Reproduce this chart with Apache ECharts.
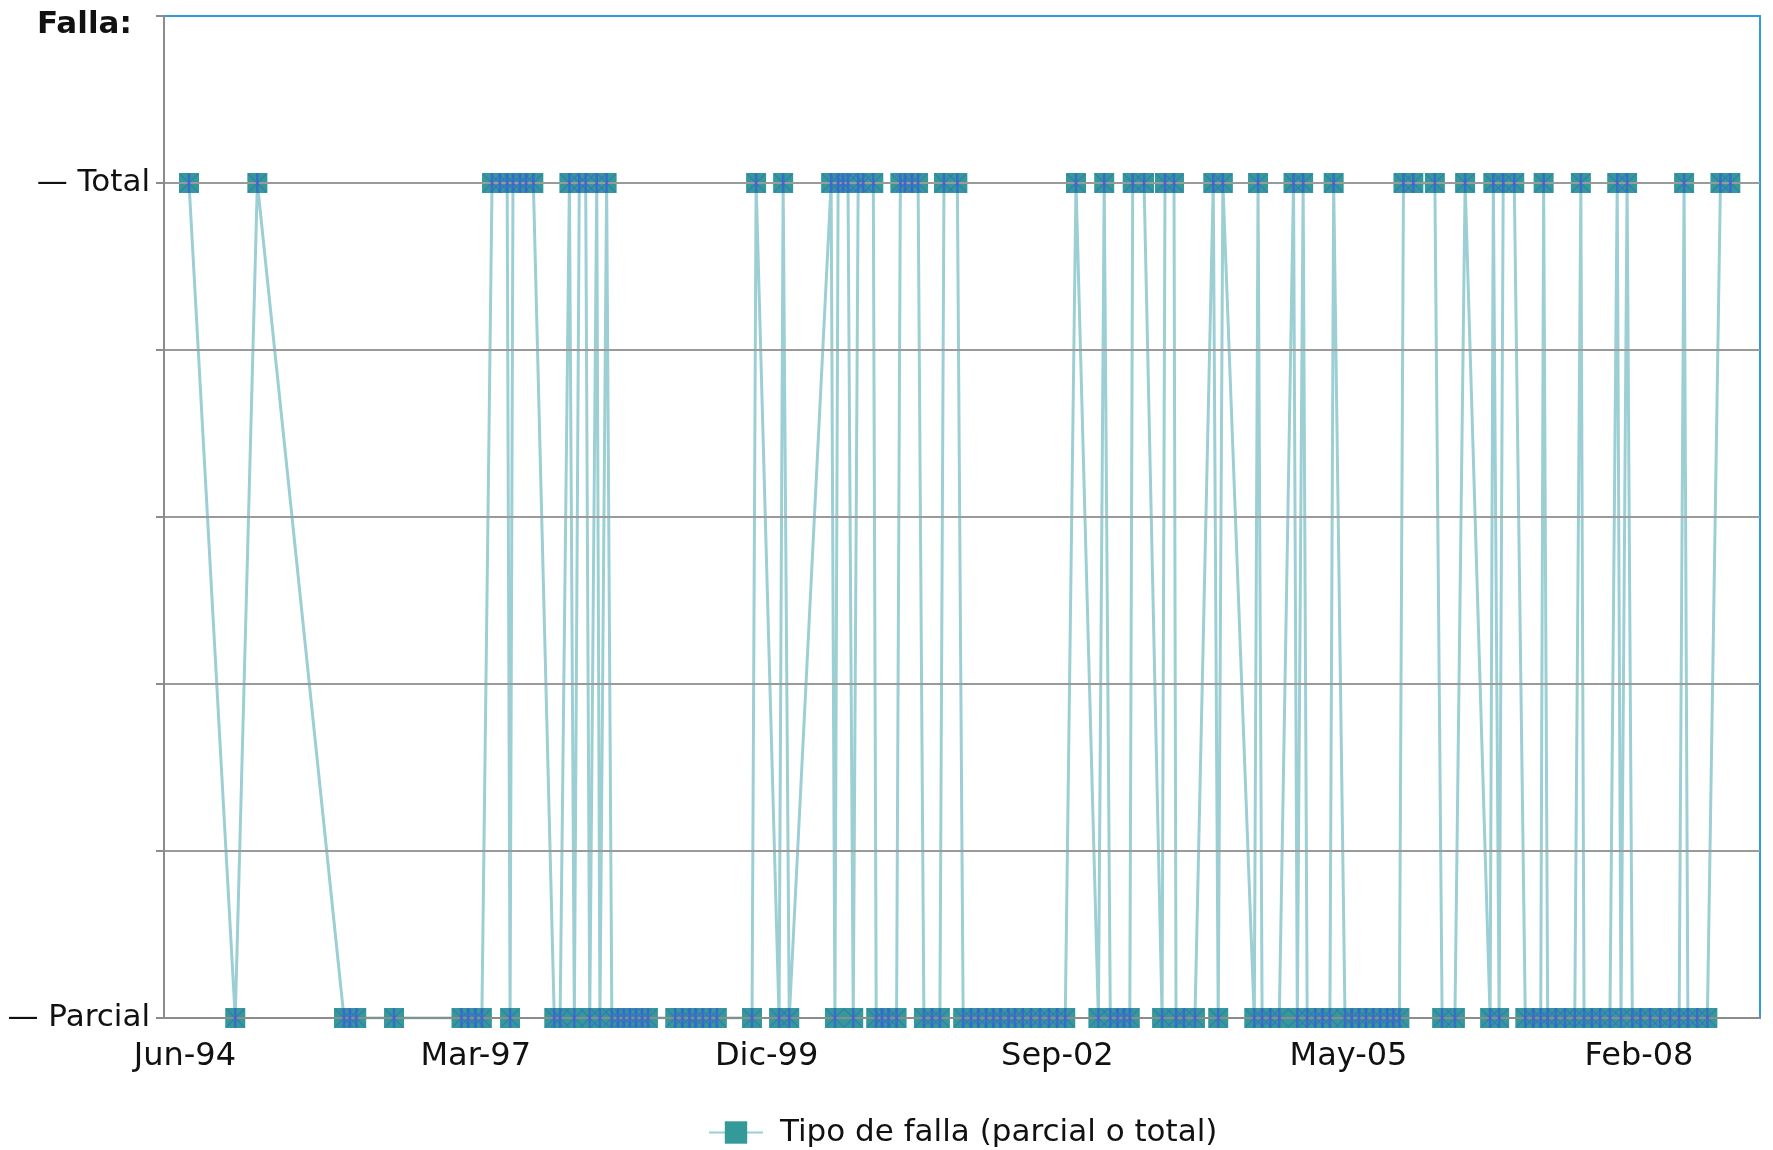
<!DOCTYPE html>
<html><head><meta charset="utf-8">
<script src="https://cdn.jsdelivr.net/npm/echarts@6/dist/echarts.min.js"></script>
<style>html,body{margin:0;padding:0;background:#fff}#c{width:1773px;height:1150px}</style>
</head><body><div id="c"></div>
<script>
// Fechas de cada falla y su tipo (1 = Total, 0 = Parcial)
const fechas = [
'1994-06-29','1994-12-05','1995-02-19','1995-12-14','1996-01-03','1996-01-25','1996-06-03','1997-01-21','1997-02-13','1997-03-10',
'1997-04-01','1997-05-06','1997-06-02','1997-06-27','1997-07-07','1997-07-17','1997-08-10','1997-08-31','1997-09-25','1997-12-06',
'1997-12-26','1998-01-27','1998-02-13','1998-03-02','1998-03-24','1998-04-07','1998-05-01','1998-05-12','1998-06-04','1998-06-22',
'1998-07-13','1998-08-02','1998-08-23','1998-09-13','1998-10-04','1998-10-24','1999-01-26','1999-02-20','1999-03-16','1999-04-06',
'1999-05-01','1999-05-25','1999-06-18','1999-10-17','1999-10-31','2000-01-18','2000-02-01','2000-02-22','2000-07-15','2000-07-28',
'2000-08-08','2000-08-25','2000-09-11','2000-09-29','2000-10-16','2000-11-02','2000-12-07','2000-12-17','2001-01-06','2001-01-28',
'2001-02-25','2001-03-10','2001-03-26','2001-04-19','2001-05-10','2001-05-30','2001-06-27','2001-07-24','2001-08-07','2001-09-22',
'2001-10-12','2001-11-08','2001-12-03','2001-12-30','2002-01-24','2002-02-17','2002-03-17','2002-04-08','2002-05-05','2002-06-02',
'2002-07-03','2002-08-03','2002-08-31','2002-09-28','2002-11-04','2003-01-20','2003-02-09','2003-03-02','2003-03-27','2003-04-18',
'2003-05-08','2003-05-18','2003-06-26','2003-08-27','2003-09-06','2003-10-07','2003-10-14','2003-11-10','2003-12-18','2004-02-19',
'2004-03-07','2004-03-23','2004-07-09','2004-07-22','2004-08-05','2004-09-02','2004-10-03','2004-11-21','2004-12-04','2004-12-24',
'2005-01-07','2005-02-04','2005-03-01','2005-03-26','2005-04-08','2005-05-17','2005-06-09','2005-07-04','2005-07-28','2005-08-22',
'2005-09-15','2005-10-09','2005-10-30','2005-11-20','2005-12-04','2006-01-07','2006-03-22','2006-04-16','2006-05-30','2006-07-04',
'2006-09-28','2006-10-09','2006-10-29','2006-11-12','2006-12-20','2007-01-27','2007-02-24','2007-03-21','2007-03-31','2007-04-14',
'2007-05-12','2007-06-12','2007-07-16','2007-08-06','2007-08-17','2007-09-13','2007-10-11','2007-11-14','2007-12-09','2007-12-22',
'2008-01-12','2008-01-30','2008-02-27','2008-03-31','2008-05-05','2008-06-08','2008-07-09','2008-07-26','2008-08-08','2008-09-09',
'2008-10-14','2008-11-28','2009-01-01'
];
const tipo = [
1,0,1,0,0,0,0,0,0,0,
0,1,1,1,0,1,1,1,1,0,
0,1,0,1,1,0,1,0,1,0,
0,0,0,0,0,0,0,0,0,0,
0,0,0,0,1,0,1,0,1,0,
1,1,1,0,1,1,1,0,0,0,
0,1,1,1,1,0,0,0,1,1,
0,0,0,0,0,0,0,0,0,0,
0,0,0,0,1,0,1,0,0,0,
0,1,1,0,1,1,0,0,0,1,
0,1,0,1,0,0,0,1,0,1,
0,0,0,0,1,0,0,0,0,0,
0,0,0,0,1,1,1,0,0,1,
0,1,0,1,1,0,0,0,1,0,
0,0,0,1,0,0,0,0,1,0,
1,0,0,0,0,0,0,1,0,0,
0,1,1
];
const tickFechas = ['1994-06-15','1997-03-11','1999-12-06','2002-09-01','2005-05-29','2008-02-22'];
const tickEtiquetas = ['Jun-94','Mar-97','Dic-99','Sep-02','May-05','Feb-08'];
const ejeInicio = '1994-04-04';
const ejeFin = '2009-04-13';
const nivelEtiquetas = ['— Parcial', '— Total'];
const nombreSerie = 'Tipo de falla (parcial o total)';
const tituloEje = 'Falla:';

function ts(s){const p=s.split('-').map(Number);return Date.UTC(p[0],p[1]-1,p[2]);}
const datos = fechas.map((f,i)=>[ts(f), tipo[i]]);
const tickTs = tickFechas.map(ts);
const FONT = 'DejaVu Sans';

const chart = echarts.init(document.getElementById('c'), null, {renderer:'canvas'});
chart.setOption({
  animation:false,
  backgroundColor:'#ffffff',
  title:{text:tituloEje, left:32, top:4, textStyle:{fontFamily:FONT, fontSize:31, fontWeight:'bold', color:'#111'}},
  grid:{left:164, right:13, top:16, bottom:132, show:true, borderColor:'#3399dd', borderWidth:2, z:0},
  legend:{data:[nombreSerie], left:703, top:1112, itemWidth:54, itemHeight:28,
    textStyle:{fontFamily:FONT, fontSize:31, color:'#111', padding:[0,0,0,12]}},
  xAxis:{type:'value', min:ts(ejeInicio), max:ts(ejeFin), z:3,
    axisLine:{lineStyle:{color:'#8c8c8c', width:2}},
    axisTick:{show:false}, splitLine:{show:false},
    axisLabel:{customValues:tickTs, hideOverlap:false, margin:23, fontFamily:FONT, fontSize:32, color:'#111',
      formatter:function(v){let best=0,bd=Infinity;tickTs.forEach((t,i)=>{const d=Math.abs(t-v);if(d<bd){bd=d;best=i;}});return tickEtiquetas[best];}}},
  yAxis:{type:'value', min:0, max:1.2, interval:0.2, z:3,
    axisLine:{show:true, lineStyle:{color:'#8c8c8c', width:2}},
    axisTick:{show:true, length:8, lineStyle:{color:'#8c8c8c', width:2}},
    splitLine:{show:true, showMaxLine:false, lineStyle:{color:'#9a9a9a', width:2}},
    axisLabel:{margin:14, fontFamily:FONT, fontSize:31, color:'#111',
      formatter:function(v){if(Math.abs(v-1)<1e-6)return nivelEtiquetas[1];if(Math.abs(v)<1e-6)return nivelEtiquetas[0];return '';}}},
  series:[
    {type:'line', name:nombreSerie, data:datos, symbol:'rect', symbolSize:20, showAllSymbol:true,
      itemStyle:{color:'#339999'}, lineStyle:{color:'#9ccfd3', width:3}, z:2},
    {type:'scatter', name:'_v', data:datos, symbol:'rect', symbolSize:[2.5,20], itemStyle:{color:'#3a62d6'}, z:3, silent:true},
    {type:'scatter', name:'_x', data:datos, symbol:'path://M0,0L10,10M10,0L0,10', symbolSize:18,
      itemStyle:{color:'none', borderColor:'#3a62d6', borderWidth:1.2, opacity:0.5}, z:3, silent:true}
  ]
});
</script></body></html>
